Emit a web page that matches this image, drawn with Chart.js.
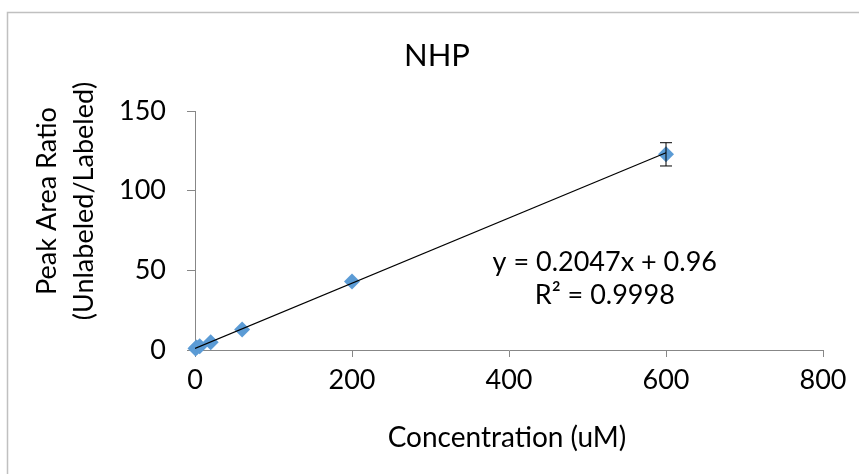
<!DOCTYPE html>
<html>
<head>
<meta charset="utf-8">
<script src="https://cdn.jsdelivr.net/npm/chart.js@4"></script>
<style>
  html, body { margin: 0; padding: 0; background: #fff; }
  #wrap { width: 859px; height: 474px; position: relative; }
</style>
</head>
<body>
<div id="wrap"><canvas id="myChart" width="859" height="474"></canvas></div>
<script>
// concentration (uM) and measured peak area ratio
const concentrations = [0.6, 2, 6, 20, 60, 200, 600];
const ratios = [0.9, 1.5, 2.3, 4.8, 12.8, 43.0, 122.8];
const errors = [0.2, 0.3, 0.3, 0.5, 0.8, 1.5, 7.3];
// trendline endpoints, from y = 0.2047x + 0.96
const trendX = [0, 600];
const trendY = [0.96, 123.78];
const xTicks = [0, 200, 400, 600, 800];
const yTicks = [0, 50, 100, 150];
const fitLabels = ["y = 0.2047x + 0.96", "R² = 0.9998"];

const FONT = "Lato, 'Open Sans', sans-serif";

const decorations = {
  id: "decorations",
  afterDatasetsDraw(chart) {
    const ctx = chart.ctx;
    const x = chart.scales.x, y = chart.scales.y;
    ctx.save();
    // error bars
    ctx.strokeStyle = "#000";
    ctx.lineWidth = 1;
    ratios.forEach((v, i) => {
      const px = x.getPixelForValue(concentrations[i]);
      const top = y.getPixelForValue(v + errors[i]);
      const bot = y.getPixelForValue(v - errors[i]);
      if (bot - top < 12) return;
      ctx.beginPath();
      ctx.moveTo(px, top); ctx.lineTo(px, bot);
      ctx.moveTo(px - 6, top); ctx.lineTo(px + 6, top);
      ctx.moveTo(px - 6, bot); ctx.lineTo(px + 6, bot);
      ctx.stroke();
    });
    ctx.restore();
  },
  afterDraw(chart) {
    const ctx = chart.ctx;
    const x = chart.scales.x;
    ctx.save();
    // outer frame
    ctx.strokeStyle = "#c0c0c0";
    ctx.lineWidth = 1.5;
    ctx.beginPath();
    ctx.moveTo(7.5, 480); ctx.lineTo(7.5, 12.5); ctx.lineTo(870, 12.5);
    ctx.stroke();
    ctx.fillStyle = "#000";
    ctx.textAlign = "center";
    ctx.textBaseline = "middle";
    // title
    ctx.font = "31px " + FONT;
    ctx.fillText("NHP", 437, 56);
    // equation
    ctx.font = "27px " + FONT;
    ctx.fillText(fitLabels[0], x.getPixelForValue(522), 262);
    ctx.fillText(fitLabels[1], x.getPixelForValue(522), 295);
    // axis titles
    ctx.font = "28px " + FONT;
    ctx.fillText("Concentration (uM)", 507, 438);
    ctx.font = "27px " + FONT;
    ctx.translate(47, 201);
    ctx.rotate(-Math.PI / 2);
    ctx.fillText("Peak Area Ratio", 0, 0);
    ctx.fillText("(Unlabeled/Labeled)", 0, 37);
    ctx.restore();
  }
};

new Chart(document.getElementById("myChart"), {
  type: "scatter",
  data: {
    datasets: [
      {
        label: "NHP",
        data: concentrations.map((c, i) => ({ x: c, y: ratios[i] })),
        pointStyle: "rectRot",
        pointRadius: 8,
        backgroundColor: "#5B9BD5",
        borderColor: "#5B9BD5",
        borderWidth: 0,
        clip: false,
        order: 1,
      },
      {
        label: "trend",
        type: "line",
        data: trendX.map((c, i) => ({ x: c, y: trendY[i] })),
        borderColor: "#000",
        borderWidth: 1.2,
        pointRadius: 0,
        fill: false,
        order: 0,
      },
    ],
  },
  options: {
    responsive: false,
    animation: false,
    layout: { padding: { top: 111, right: 36, left: 0, bottom: 0 } },
    plugins: { legend: { display: false }, tooltip: { enabled: false }, title: { display: false } },
    scales: {
      x: {
        type: "linear",
        min: 0, max: 800,
        afterBuildTicks: (s) => { s.ticks = xTicks.map((v) => ({ value: v })); },
        afterFit: (s) => { s.height = 124; },
        grid: { drawOnChartArea: false, tickLength: 7, color: "#878787" },
        border: { color: "#878787", width: 1 },
        ticks: { font: { family: FONT, size: 27 }, color: "#000", padding: 7, maxRotation: 0 },
      },
      y: {
        min: 0, max: 150,
        afterBuildTicks: (s) => { s.ticks = yTicks.map((v) => ({ value: v })); },
        afterFit: (s) => { s.width = 195; },
        grid: { drawOnChartArea: false, tickLength: 8, color: "#878787" },
        border: { color: "#878787", width: 1 },
        ticks: { font: { family: FONT, size: 27 }, color: "#000", padding: 21 },
      },
    },
  },
  plugins: [decorations],
});
</script>
</body>
</html>
